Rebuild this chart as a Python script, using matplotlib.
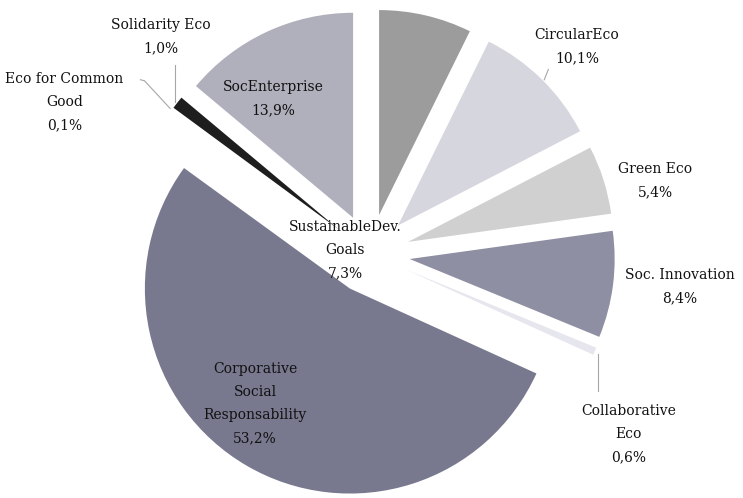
import matplotlib
matplotlib.use("Agg")
import matplotlib.pyplot as plt

# shares (%) clockwise from 12 o'clock
labels = [
    "SustainableDev.\nGoals", "CircularEco", "Green Eco", "Soc. Innovation",
    "Collaborative\nEco", "Corporative\nSocial\nResponsability",
    "Eco for Common\nGood", "Solidarity Eco", "SocEnterprise",
]
shares = [7.3, 10.1, 5.4, 8.4, 0.6, 53.2, 0.1, 1.0, 13.9]
colors = ["#9c9c9c", "#d6d7de", "#d0d0d0", "#8f8fa3", "#e6e6ee",
          "#78788f", "#ffffff", "#1e1e1e", "#b0b0bd"]

# label placement (data units, pie radius = 1)
label_pos = [(-0.12, 0.02), (1.01, 1.01), (1.39, 0.36), (1.51, -0.16),
             (1.26, -0.88), (-0.56, -0.73), (-1.49, 0.74), (-1.02, 1.06),
             (-0.47, 0.76)]
# leader lines (data units) for the small slices
leaders = {
    1: [(0.87, 0.90), (0.85, 0.85)],
    4: [(1.11, -0.49), (1.11, -0.67)],
    6: [(-1.12, 0.85), (-1.10, 0.845), (-0.975, 0.71)],
    7: [(-0.95, 0.92), (-0.95, 0.74)],
}

fig = plt.figure(figsize=(7.43, 4.98), dpi=100)
ax = fig.add_axes([0, 0, 1, 1])
ax.pie(shares, colors=colors, startangle=90, counterclock=False,
       explode=[0.195] * len(shares), radius=1,
       wedgeprops=dict(linewidth=0))

for i, (lab, val) in enumerate(zip(labels, shares)):
    txt = lab + "\n" + f"{val:.1f}".replace(".", ",") + "%"
    ax.text(label_pos[i][0], label_pos[i][1], txt, ha="center", va="center",
            family="DejaVu Serif", fontsize=10, color="#111111",
            linespacing=1.85)

for pts in leaders.values():
    xs = [p[0] for p in pts]
    ys = [p[1] for p in pts]
    ax.plot(xs, ys, color="#a6a6a6", linewidth=0.8)

ax.set_xlim(-370 / 205, (743 - 370) / 205)
ax.set_ylim(-244 / 205, (498 - 244) / 205)
ax.set_aspect("auto")
ax.axis("off")

plt.savefig("out.png", dpi=100)
